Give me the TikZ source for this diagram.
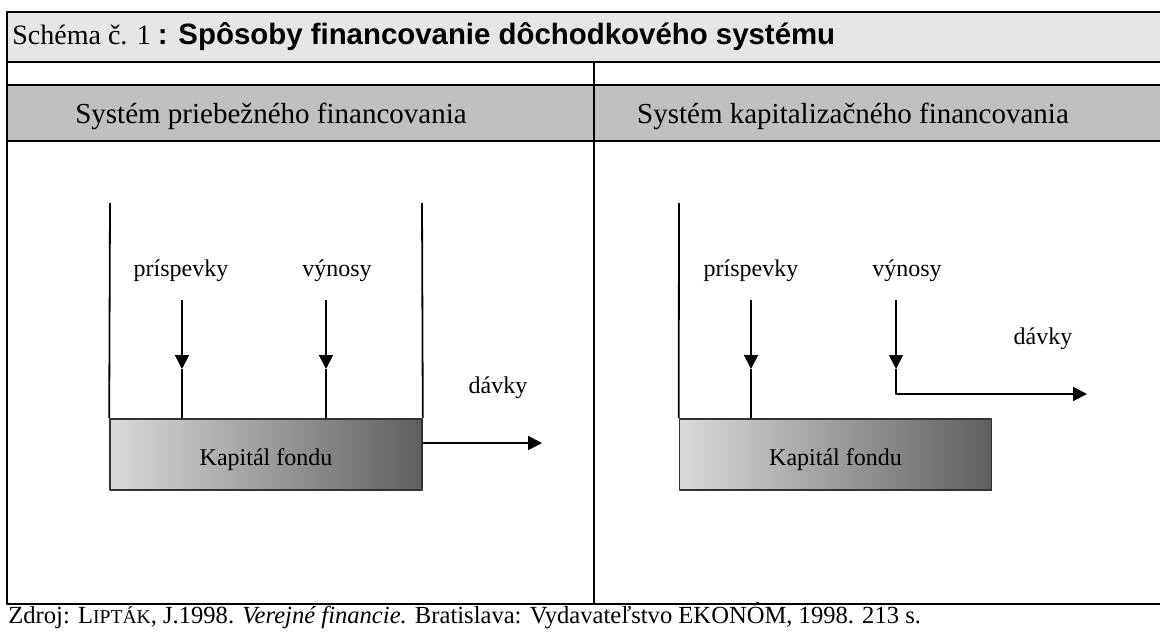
\documentclass[tikz,border=0pt]{standalone}
\usepackage{fontspec}
\setmainfont{Liberation Serif}
\newfontfamily\headsans{Liberation Sans}
\usetikzlibrary{arrows.meta,positioning}
\definecolor{titlegray}{RGB}{230,230,230}
\definecolor{headgray}{RGB}{192,192,192}
\definecolor{boxlight}{RGB}{218,218,218}
\definecolor{boxdark}{RGB}{95,95,95}
\definecolor{boxedge}{RGB}{50,50,50}
\tikzset{
  tabline/.style={line width=1.3pt},
  flow/.style={line width=0.9pt},
  lbl/.style={font=\fontsize{12}{14}\selectfont, anchor=base},
  headtext/.style={font=\fontsize{14.5}{16}\selectfont, anchor=base},
  fundbox/.style={draw=boxedge, line width=0.8pt, left color=boxlight, right color=boxdark,
    minimum width=156pt, minimum height=35.5pt, inner sep=0pt,
    text height=10.5pt, text depth=0pt, font=\fontsize{12}{14}\selectfont}
}

\begin{document}
\begin{tikzpicture}[x=0.5pt, y=-0.5pt, line join=round, >={Triangle[length=7pt,width=7pt]}]
\useasboundingbox (0,0) rectangle (1160,633);
% table
\fill[titlegray] (7,12) rectangle (1160,62);
\fill[headgray] (7,85) rectangle (1160,141);
\draw[tabline] (1160,12) -- (7,12) -- (7,604) -- (1160,604);
\foreach \y in {62,85,141} {
  \draw[tabline] (7,\y) -- (1160,\y);
}
\draw[tabline] (594,62) -- (594,604);
\node[anchor=base west, inner sep=0pt, font=\fontsize{14}{16}\selectfont] (title) at (12,44)
  {Schéma č. 1 {\headsans\bfseries\fontsize{14.7}{16}\selectfont : Spôsoby financovanie dôchodkového systému}};
\node[headtext] (leftHead) at (271,123) {Systém priebežného financovania};
\node[headtext] (rightHead) at (853,123) {Systém kapitalizačného financovania};
% left: pay-as-you-go
\node[fundbox] (lFund) at (266,454.5) {Kapitál fondu};
\coordinate (lWallL) at (110,203);
\coordinate (lWallR) at (422,203);
\draw[flow] (lWallL) -- (lFund.north west);
\draw[flow] (lWallR) -- (lFund.north east);
\node[lbl] (lContrib) at (181,276) {príspevky};
\node[lbl] (lYield) at (337,276) {výnosy};
\node[lbl] (lBenefit) at (498,393) {dávky};
\coordinate (lContribTip) at (182,369);
\coordinate (lYieldTip) at (326,369);
\coordinate (lOut) at (542,443);
\draw[flow,->] (lContribTip |- 0,300) -- (lContribTip);
\draw[flow] (lContribTip) -- (lContribTip |- lFund.north);
\draw[flow,->] (lYieldTip |- 0,300) -- (lYieldTip);
\draw[flow] (lYieldTip) -- (lYieldTip |- lFund.north);
\draw[flow,->] (lOut -| lFund.east) -- (lOut);
% right: funded
\node[fundbox] (rFund) at (835.5,454.5) {Kapitál fondu};
\coordinate (rWallL) at (679,203);
\draw[flow] (rWallL) -- (rFund.north west);
\node[lbl] (rContrib) at (751,276) {príspevky};
\node[lbl] (rYield) at (907,276) {výnosy};
\node[lbl] (rBenefit) at (1043,344) {dávky};
\coordinate (rContribTip) at (751,369);
\coordinate (rYieldTip) at (896,369);
\coordinate (rOut) at (1087,394);
\draw[flow,->] (rContribTip |- 0,300) -- (rContribTip);
\draw[flow] (rContribTip) -- (rContribTip |- rFund.north);
\draw[flow,->] (rYieldTip |- 0,300) -- (rYieldTip);
\draw[flow,->] (rYieldTip) |- (rOut);
% source
\node[anchor=base west, inner sep=0pt, font=\fontsize{12.3}{14}\selectfont] (source) at (8,623)
  {Zdroj: L{\fontsize{9.8}{11}\selectfont IPTÁK}, J.1998. \textit{Verejné financie.} Bratislava: Vydavateľstvo EKONÓM, 1998. 213 s.};
\end{tikzpicture}
\end{document}
